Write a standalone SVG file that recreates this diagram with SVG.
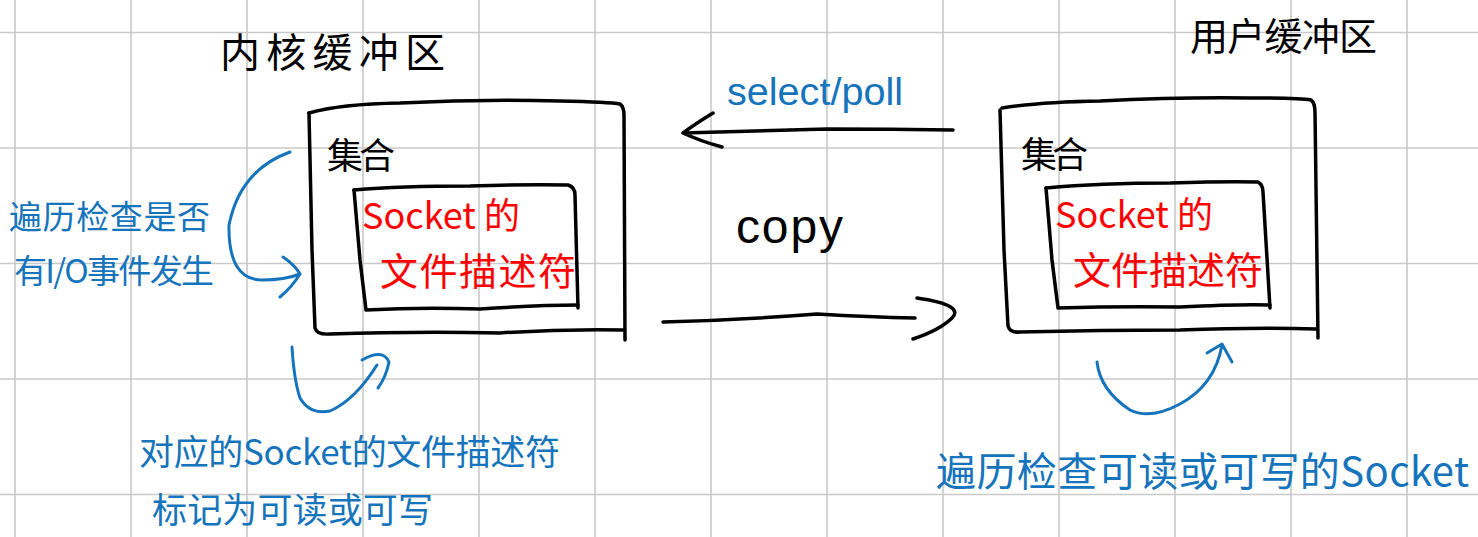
<svg xmlns="http://www.w3.org/2000/svg" width="1478" height="537" viewBox="0 0 1478 537">
<style>
.grid{stroke:#c9c9c9;stroke-width:1.6;fill:none}
.ink{fill:none;stroke:#000;stroke-width:3.5;stroke-linecap:round;stroke-linejoin:round}
.blue{fill:none;stroke:#1574bb;stroke-width:3;stroke-linecap:round;stroke-linejoin:round}
.cjk{font-family:"Noto Sans CJK SC","Noto Sans",sans-serif}
.lat{font-family:"Liberation Sans",Arial,sans-serif}
.k{fill:#000}
.r{fill:#f00}
.b{fill:#1574bb}
</style>
<rect width="1478" height="537" fill="#fff"/>
<g id="grid" class="grid">
<path d="M15,0V537M131,0V537M247,0V537M363,0V537M479,0V537M595,0V537M711,0V537M827,0V537M943,0V537M1059,0V537M1175,0V537M1291,0V537M1407,0V537"/>
<path d="M0,32.5H1478M0,148H1478M0,263.5H1478M0,379H1478M0,494.5H1478"/>
</g>
<g id="kernel-title"><text class="cjk k" x="220" y="67" font-size="40" textLength="225" lengthAdjust="spacing">内核缓冲区</text></g>
<g id="user-title"><text class="cjk k" x="1190" y="50" font-size="38" textLength="187" lengthAdjust="spacing">用户缓冲区</text></g>
<g id="kernel-set">
<path class="ink" d="M309,113 Q340,104 400,103 Q480,99 560,101 Q610,102 620,104 Q624,107 624,115 L625,340"/>
<path class="ink" d="M309,113 L312,250 L315,328 Q317,335 330,334 Q420,331 500,333 Q560,329 623,330"/>
<text class="cjk k" x="327" y="169" font-size="36" textLength="68" lengthAdjust="spacing">集合</text>
</g>
<g id="kernel-fd">
<path class="ink" d="M354,190 Q400,186 470,186 Q530,184 568,185 Q575,187 575,195 L578,308"/>
<path class="ink" d="M354,190 L360,260 L366,310 Q420,307 480,309 Q540,305 578,305"/>
<text class="cjk r" x="362" y="229" font-size="36" textLength="158" lengthAdjust="spacing">Socket 的</text>
<text class="cjk r" x="380" y="285" font-size="38" textLength="196" lengthAdjust="spacing">文件描述符</text>
</g>
<g id="user-set">
<path class="ink" d="M1002,108 Q1040,102 1100,101 Q1180,97 1250,98 Q1300,98 1311,100 Q1315,103 1315,112 L1318,338"/>
<path class="ink" d="M1000,110 L1004,250 L1008,326 Q1010,333 1020,332 Q1100,330 1180,330 Q1260,327 1316,329"/>
<text class="cjk k" x="1021" y="168" font-size="36" textLength="67" lengthAdjust="spacing">集合</text>
</g>
<g id="user-fd">
<path class="ink" d="M1046,188 Q1100,183 1170,183 Q1230,181 1258,182 Q1263,185 1263,192 L1270,308"/>
<path class="ink" d="M1046,188 L1052,260 L1058,308 Q1120,306 1180,307 Q1240,304 1270,305"/>
<text class="cjk r" x="1055" y="228" font-size="36" textLength="158" lengthAdjust="spacing">Socket 的</text>
<text class="cjk r" x="1073" y="284" font-size="38" textLength="190" lengthAdjust="spacing">文件描述符</text>
</g>
<g id="labels">
<text class="lat b" x="727" y="105" font-size="38" textLength="176" lengthAdjust="spacingAndGlyphs">select/poll</text>
<text class="lat k" x="736" y="243" font-size="48" textLength="107" lengthAdjust="spacing">copy</text>
<text class="cjk b" x="9" y="229" font-size="33" textLength="201" lengthAdjust="spacing">遍历检查是否</text>
<text class="cjk b" x="14" y="283" font-size="33" textLength="200" lengthAdjust="spacing">有I/O事件发生</text>
<text class="cjk b" x="139" y="465" font-size="35" textLength="421" lengthAdjust="spacing">对应的Socket的文件描述符</text>
<text class="cjk b" x="152" y="523" font-size="35" textLength="281" lengthAdjust="spacing">标记为可读或可写</text>
<text class="cjk b" x="936" y="486" font-size="40" textLength="533" lengthAdjust="spacing">遍历检查可读或可写的Socket</text>
</g>
<g id="connectors">
<path class="ink" d="M953,130 Q890,129 827,129 Q760,131 683,133 M713,113 Q695,124 683,133 Q700,141 722,147"/>
<path class="ink" d="M663,322 Q740,320 817,314 Q870,317 915,318 M917,298 Q965,305 952,318 Q940,330 913,339"/>
<path class="blue" d="M290,152 Q240,170 229,225 Q228,280 262,280 Q285,280 300,274 M283,257 Q295,265 300,274 Q292,287 280,297"/>
<path class="blue" d="M292,347 Q294,380 300,398 Q310,415 330,411 Q355,400 377,365 M362,360 Q383,348 389,362 Q386,377 378,388"/>
<path class="blue" d="M1097,362 Q1100,390 1130,410 Q1150,420 1180,404 Q1215,385 1222,345 M1207,353 L1222,344 L1232,362"/>
</g>
</svg>
